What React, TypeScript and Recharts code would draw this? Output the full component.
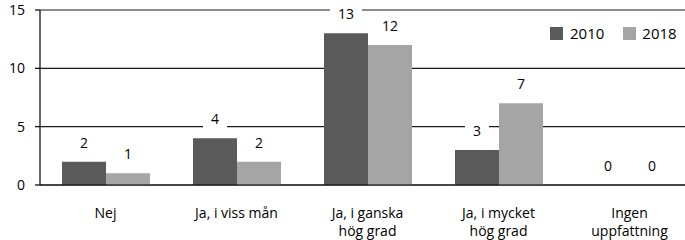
import React from 'react';
import { BarChart, Bar, XAxis, YAxis, CartesianGrid } from 'recharts';

const categories = ['Nej', 'Ja, i viss mån', 'Ja, i ganska\nhög grad', 'Ja, i mycket\nhög grad', 'Ingen\nuppfattning'];
const values2010 = [2, 4, 13, 3, 0];
const values2018 = [1, 2, 12, 7, 0];
const yTicks = [0, 5, 10, 15];

const FONT = '"Open Sans", sans-serif';
const DARK = '#5a5a5a';
const LIGHT = '#a5a5a5';

const data = categories.map((name, i) => ({
  name,
  y2010: values2010[i],
  y2018: values2018[i],
}));

// multi-line category labels
const CategoryTick = (props: any) => {
  const { x, y, payload } = props;
  const lines = String(payload.value).split('\n');
  return (
    <g transform={`translate(${x},${y})`}>
      {lines.map((line, i) => (
        <text key={i} x={0} y={25 + i * 18} textAnchor="middle" fill="#000" fontSize={14} fontFamily={FONT}>
          {line}
        </text>
      ))}
    </g>
  );
};

// value label with a white box behind it
const BoxLabel = (props: any) => {
  const vb = props.viewBox || {};
  const x = props.x ?? vb.x;
  const y = props.y ?? vb.y;
  const width = props.width ?? vb.width ?? 0;
  const { value } = props;
  if (x == null || y == null) return null;
  const cx = x + width / 2;
  const cy = y - 19;
  const text = String(value);
  const w = text.length * 8 + 16;
  return (
    <g>
      <rect x={cx - w / 2} y={cy - 9} width={w} height={18} fill="#fff" />
      <text x={cx} y={cy + 5} textAnchor="middle" fill="#000" fontSize={14} fontFamily={FONT}>
        {text}
      </text>
    </g>
  );
};

const App: React.FC = () => {
  return (
    <div style={{ position: 'absolute', left: 0, top: 0, width: 685, height: 240, overflow: 'hidden', background: '#fff' }}>
      <BarChart
        width={695}
        height={240}
        data={data}
        margin={{ top: 10, right: 0, left: 0, bottom: 0 }}
        barGap={0}
      >
        <CartesianGrid vertical={false} stroke="#1a1a1a" strokeWidth={1.2} />
        <XAxis
          dataKey="name"
          height={55}
          tickLine={false}
          axisLine={{ stroke: '#000', strokeWidth: 1.2 }}
          tick={<CategoryTick />}
          interval={0}
        />
        <YAxis
          width={40}
          domain={[0, 15]}
          ticks={yTicks}
          tickSize={5}
          tickMargin={10}
          axisLine={{ stroke: '#000', strokeWidth: 1.2 }}
          tickLine={{ stroke: '#000', strokeWidth: 1.2 }}
          tick={{ fill: '#000', fontSize: 14, fontFamily: FONT }}
        />
        <Bar dataKey="y2010" name="2010" fill={DARK} barSize={44} minPointSize={0.01} isAnimationActive={false} label={<BoxLabel />} />
        <Bar dataKey="y2018" name="2018" fill={LIGHT} barSize={44} minPointSize={0.01} isAnimationActive={false} label={<BoxLabel />} />
      </BarChart>
      <div
        style={{
          position: 'absolute', top: 23, left: 550, display: 'flex', alignItems: 'center',
          fontFamily: FONT, fontSize: 15, color: '#000',
        }}
      >
        <span style={{ width: 13, height: 13, background: DARK, display: 'inline-block', marginRight: 7 }} />
        <span style={{ marginRight: 19 }}>2010</span>
        <span style={{ width: 13, height: 13, background: LIGHT, display: 'inline-block', marginRight: 6 }} />
        <span>2018</span>
      </div>
    </div>
  );
};

export default App;
